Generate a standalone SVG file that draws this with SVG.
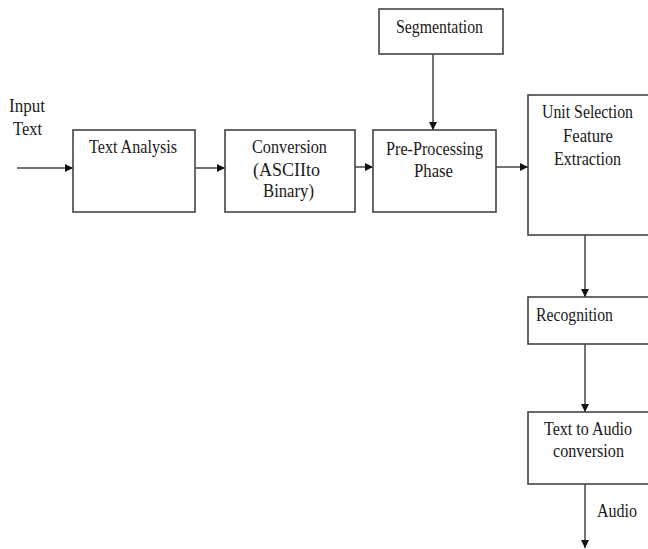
<svg xmlns="http://www.w3.org/2000/svg" width="648" height="549" viewBox="0 0 648 549">
<defs>
<style>
.box{fill:#fff;stroke:#444;stroke-width:1.6}
.ln{fill:none;stroke:#444;stroke-width:1.5}
text{font-family:"Liberation Serif","Times New Roman",serif;font-size:18px;fill:#1a1a1a}
</style>
<marker id="ah" viewBox="0 0 10 10" refX="10" refY="5" markerWidth="8" markerHeight="8" markerUnits="userSpaceOnUse" orient="auto">
<path d="M0,0 L10,5 L0,10 z" fill="#111"/>
</marker>
</defs>
<rect width="648" height="549" fill="#fff"/>
<g id="connectors">
<line class="ln" x1="17" y1="168" x2="73" y2="168" marker-end="url(#ah)"/>
<line class="ln" x1="195" y1="168" x2="225" y2="168" marker-end="url(#ah)"/>
<line class="ln" x1="355" y1="167" x2="373" y2="167" marker-end="url(#ah)"/>
<line class="ln" x1="433" y1="54" x2="433" y2="130" marker-end="url(#ah)"/>
<line class="ln" x1="496" y1="167" x2="528" y2="167" marker-end="url(#ah)"/>
<line class="ln" x1="585" y1="235" x2="585" y2="297" marker-end="url(#ah)"/>
<line class="ln" x1="585" y1="344" x2="585" y2="412" marker-end="url(#ah)"/>
<line class="ln" x1="585" y1="484" x2="585" y2="548" marker-end="url(#ah)"/>
<text x="597" y="517" textLength="40" lengthAdjust="spacingAndGlyphs">Audio</text>
</g>
<g id="input">
<text x="9" y="112" textLength="36" lengthAdjust="spacingAndGlyphs">Input</text>
<text x="13" y="135" textLength="29" lengthAdjust="spacingAndGlyphs">Text</text>
</g>
<g id="text-analysis">
<rect class="box" x="73" y="130" width="122" height="82"/>
<text x="89" y="153" textLength="88" lengthAdjust="spacingAndGlyphs">Text Analysis</text>
</g>
<g id="conversion">
<rect class="box" x="225" y="130" width="130" height="82"/>
<text x="252" y="153" textLength="75" lengthAdjust="spacingAndGlyphs">Conversion</text>
<text x="253" y="176" textLength="67" lengthAdjust="spacingAndGlyphs">(ASCIIto</text>
<text x="263" y="197" textLength="51" lengthAdjust="spacingAndGlyphs">Binary)</text>
</g>
<g id="segmentation">
<rect class="box" x="379" y="9" width="124" height="45"/>
<text x="396" y="33" textLength="87" lengthAdjust="spacingAndGlyphs">Segmentation</text>
</g>
<g id="pre-processing">
<rect class="box" x="373" y="130" width="123" height="82"/>
<text x="386" y="155" textLength="97" lengthAdjust="spacingAndGlyphs">Pre-Processing</text>
<text x="414" y="177" textLength="39" lengthAdjust="spacingAndGlyphs">Phase</text>
</g>
<g id="unit-selection">
<rect class="box" x="528" y="95" width="140" height="140"/>
<text x="542" y="118" textLength="91" lengthAdjust="spacingAndGlyphs">Unit Selection</text>
<text x="563" y="142" textLength="50" lengthAdjust="spacingAndGlyphs">Feature</text>
<text x="554" y="165" textLength="67" lengthAdjust="spacingAndGlyphs">Extraction</text>
</g>
<g id="recognition">
<rect class="box" x="528" y="297" width="140" height="47"/>
<text x="536" y="321" textLength="77" lengthAdjust="spacingAndGlyphs">Recognition</text>
</g>
<g id="text-to-audio">
<rect class="box" x="528" y="412" width="140" height="72"/>
<text x="544" y="435" textLength="88" lengthAdjust="spacingAndGlyphs">Text to Audio</text>
<text x="553" y="457" textLength="71" lengthAdjust="spacingAndGlyphs">conversion</text>
</g>
</svg>
